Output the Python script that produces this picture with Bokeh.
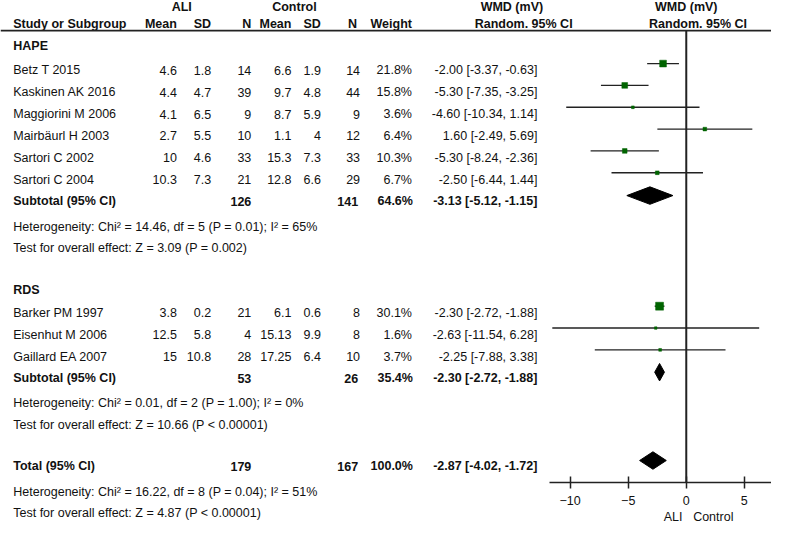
import numpy as np
from bokeh.plotting import figure
from bokeh.models import Range1d, LinearAxis, FixedTicker, ColumnDataSource, Span
from bokeh.core.properties import value
from bokeh.embed import file_html
from bokeh.resources import INLINE

# ---------------- data ----------------
hape_names = ["Betz T 2015", "Kaskinen AK 2016", "Maggiorini M 2006",
              "Mairbäurl H 2003", "Sartori C 2002", "Sartori C 2004"]
hape_ali_mean = [4.6, 4.4, 4.1, 2.7, 10, 10.3]
hape_ali_sd = [1.8, 4.7, 6.5, 5.5, 4.6, 7.3]
hape_ali_n = [14, 39, 9, 10, 33, 21]
hape_ctl_mean = [6.6, 9.7, 8.7, 1.1, 15.3, 12.8]
hape_ctl_sd = [1.9, 4.8, 5.9, 4, 7.3, 6.6]
hape_ctl_n = [14, 44, 9, 12, 33, 29]
hape_weight = [21.8, 15.8, 3.6, 6.4, 10.3, 6.7]
hape_wmd = [-2.00, -5.30, -4.60, 1.60, -5.30, -2.50]
hape_lo = [-3.37, -7.35, -10.34, -2.49, -8.24, -6.44]
hape_hi = [-0.63, -3.25, 1.14, 5.69, -2.36, 1.44]

rds_names = ["Barker PM 1997", "Eisenhut M 2006", "Gaillard EA 2007"]
rds_ali_mean = [3.8, 12.5, 15]
rds_ali_sd = [0.2, 5.8, 10.8]
rds_ali_n = [21, 4, 28]
rds_ctl_mean = [6.1, 15.13, 17.25]
rds_ctl_sd = [0.6, 9.9, 6.4]
rds_ctl_n = [8, 8, 10]
rds_weight = [30.1, 1.6, 3.7]
rds_wmd = [-2.30, -2.63, -2.25]
rds_lo = [-2.72, -11.54, -7.88]
rds_hi = [-1.88, 6.28, 3.38]

# subtotals / total: label, ALI N, Control N, weight, est, lo, hi
summary_labels = ["Subtotal (95% CI)", "Subtotal (95% CI)", "Total (95% CI)"]
summary_ali_n = [126, 53, 179]
summary_ctl_n = [141, 26, 167]
summary_weight = [64.6, 35.4, 100.0]
summary_est = [-3.13, -2.30, -2.87]
summary_lo = [-5.12, -2.72, -4.02]
summary_hi = [-1.15, -1.88, -1.72]

het_texts = ["Heterogeneity: Chi² = 14.46, df = 5 (P = 0.01); I² = 65%",
             "Heterogeneity:  Chi² = 0.01, df = 2 (P = 1.00); I² = 0%",
             "Heterogeneity: Chi² = 16.22, df = 8 (P = 0.04); I² = 51%"]
test_texts = ["Test for overall effect: Z = 3.09 (P = 0.002)",
              "Test for overall effect: Z = 10.66 (P < 0.00001)",
              "Test for overall effect: Z = 4.87 (P < 0.00001)"]
group_labels = ["HAPE", "RDS"]
axis_ticks = [-10, -5, 0, 5]
axis_words = ["ALI", "Control"]

# ---------------- layout ----------------
FONT = "Liberation Sans"
FS = "12.5px"
TXT = "#111111"
GREEN = "#006400"
LINE = "#222222"

REF_W, REF_H = 787, 542
W, H = 771, 526
ZERO_X, PX_PER_UNIT = 700, 11.85

p = figure(width=W, height=H, x_range=Range1d(0, REF_W), y_range=Range1d(REF_H, 0),
           x_axis_type=None, y_axis_type=None, output_backend="svg",
           toolbar_location=None, min_border=0, outline_line_color=None)
p.extra_x_ranges = {"wmd": Range1d(-ZERO_X / PX_PER_UNIT, (REF_W - ZERO_X) / PX_PER_UNIT)}

step = 22.5
y_head1, y_head2, y_rule = 7, 24.5, 31
y_hape_lab = 47
y_hape = 72 + step * np.arange(len(hape_names))
y_hape_sub = y_hape[-1] + step
y_hape_het = y_hape_sub + 26
y_hape_test = y_hape_het + 22
y_rds_lab = y_hape_test + 43
y_rds = y_rds_lab + 24 + step * np.arange(len(rds_names))
y_rds_sub = y_rds[-1] + 22
y_rds_het = y_rds_sub + 26
y_rds_test = y_rds_het + 22
y_tot = y_rds_test + 43
y_tot_het = y_tot + 26
y_tot_test = y_tot_het + 22
y_axis = 497
y_axis_words = 532
MOFF = 7  # markers sit slightly above text centre

y_sum = [y_hape_sub, y_rds_sub, y_tot]
y_het = [y_hape_het, y_rds_het, y_tot_het]
y_test = [y_hape_test, y_rds_test, y_tot_test]


def txt(xs, ys, texts, align="right", bold=False, range_name="default"):
    n = len(texts)
    xs = list(xs) if np.ndim(xs) else [xs] * n
    ys = list(ys) if np.ndim(ys) else [ys] * n
    src = ColumnDataSource(dict(x=xs, y=ys, t=list(texts)))
    p.text(x="x", y="y", text="t", source=src, text_align=align,
           text_baseline="middle", text_font=value(FONT), text_font_size=FS,
           text_font_style="bold" if bold else "normal", text_color=TXT,
           x_range_name=range_name)


def g(v):
    return f"{v:g}"


# headers
txt([185, 300, 522, 700], y_head1, ["ALI", "Control", "WMD (mV)", "WMD (mV)"], align="center", bold=True)
txt(13, y_head2, ["Study or Subgroup"], align="left", bold=True)
txt([180, 215, 256, 297, 327, 364, 420], y_head2,
    ["Mean", "SD", "N", "Mean", "SD", "N", "Weight"], bold=True)
txt([534, 712], y_head2, ["Random. 95% CI", "Random. 95% CI"], align="center", bold=True)
p.add_layout(Span(location=y_rule, dimension="width", line_color=LINE, line_width=1.8))

# group labels
txt(13, [y_hape_lab, y_rds_lab], group_labels, align="left", bold=True)

# study rows
names = hape_names + rds_names
ys = list(y_hape) + list(y_rds)
ali_mean = hape_ali_mean + rds_ali_mean
ali_sd = hape_ali_sd + rds_ali_sd
ali_n = hape_ali_n + rds_ali_n
ctl_mean = hape_ctl_mean + rds_ctl_mean
ctl_sd = hape_ctl_sd + rds_ctl_sd
ctl_n = hape_ctl_n + rds_ctl_n
weight = hape_weight + rds_weight
wmd = hape_wmd + rds_wmd
lo = hape_lo + rds_lo
hi = hape_hi + rds_hi

txt(13, ys, names, align="left")
txt(180, ys, [g(v) for v in ali_mean])
txt(215, ys, [g(v) for v in ali_sd])
txt(256, ys, [str(v) for v in ali_n])
txt(297, ys, [g(v) for v in ctl_mean])
txt(327, ys, [g(v) for v in ctl_sd])
txt(367, ys, [str(v) for v in ctl_n])
txt(420, ys, [f"{w:.1f}%" for w in weight])
txt(548, ys, [f"{e:.2f} [{a:.2f}, {b:.2f}]" for e, a, b in zip(wmd, lo, hi)])

# summary rows
txt(13, y_sum, summary_labels, align="left", bold=True)
txt(256, y_sum, [str(v) for v in summary_ali_n], bold=True)
txt(365, y_sum, [str(v) for v in summary_ctl_n], bold=True)
txt(421, y_sum, [f"{w:.1f}%" for w in summary_weight], bold=True)
txt(548, y_sum, [f"{e:.2f} [{a:.2f}, {b:.2f}]" for e, a, b in
                 zip(summary_est, summary_lo, summary_hi)], bold=True)
txt(13, y_het, het_texts, align="left")
txt(13, y_test, test_texts, align="left")

# forest plot
ym = [y - MOFF for y in ys]
p.segment(x0=[0], y0=[y_rule], x1=[0], y1=[y_axis], x_range_name="wmd",
          line_color=LINE, line_width=2)
p.segment(x0=lo, y0=ym, x1=hi, y1=ym, x_range_name="wmd", line_color=LINE, line_width=1.4)
sizes = [max(2.5, 1.45 * np.sqrt(w)) for w in weight]
p.scatter(x=wmd, y=ym, size=sizes, marker="square", fill_color=GREEN,
          line_color=GREEN, line_width=0.5, x_range_name="wmd")

dh = 9
dxs = [[a, e, b, e] for a, e, b in zip(summary_lo, summary_est, summary_hi)]
dys = [[y - 6, y - 6 - dh, y - 6, y - 6 + dh] for y in y_sum]
p.patches(xs=dxs, ys=dys, fill_color="black", line_color="black", x_range_name="wmd")

ax = LinearAxis(x_range_name="wmd", ticker=FixedTicker(ticks=axis_ticks),
                fixed_location=y_axis, bounds=(min(lo) - 0.27, (REF_W - ZERO_X) / PX_PER_UNIT))
ax.axis_line_color = LINE
ax.axis_line_width = 1.5
ax.major_tick_line_color = LINE
ax.major_tick_line_width = 1.5
ax.major_tick_in = 6
ax.major_tick_out = 6
ax.minor_tick_line_color = None
ax.major_label_text_font = FONT
ax.major_label_text_font_size = FS
ax.major_label_text_color = TXT
ax.major_label_standoff = 7
p.add_layout(ax, "below")

txt([677, 707], y_axis_words, axis_words, align="left")

open("out.html", "w").write(file_html(p, INLINE))
